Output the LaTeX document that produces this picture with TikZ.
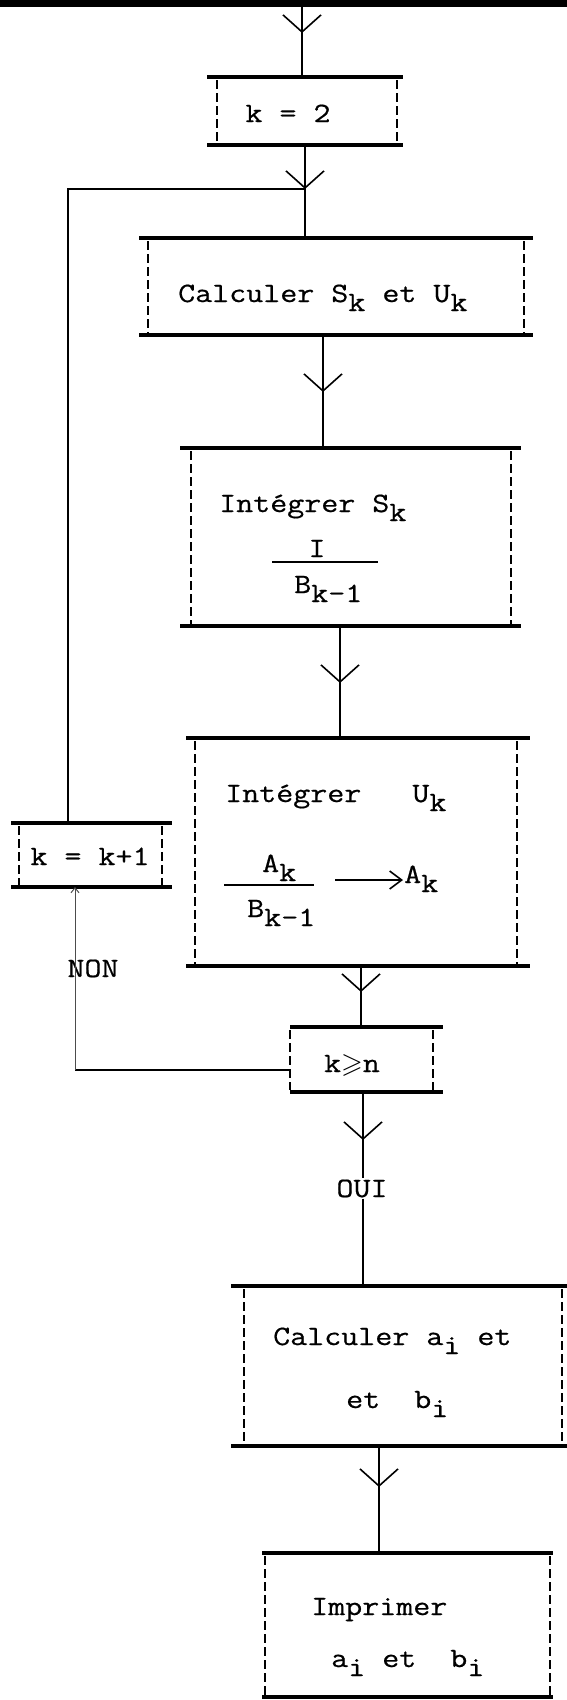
\documentclass[tikz,border=0pt]{standalone}
\usepackage{fontspec}
\setmonofont[FakeStretch=1.18,FakeBold=0.6]{Latin Modern Mono}
\usepackage{amssymb}
\usetikzlibrary{arrows.meta,decorations.markings}

\newcommand\ind[1]{\raisebox{-0.75ex}{#1}}
\newcommand\police{\ttfamily\fontsize{28}{34}\selectfont}
% cadre : traits pleins en haut et en bas, cotes en tirets
\newcommand\cadre[3]{%
  \draw[trait] ([xshift=-#2pt]#1.north west) -- ([xshift=#3pt]#1.north east);
  \draw[trait] ([xshift=-#2pt]#1.south west) -- ([xshift=#3pt]#1.south east);
  \draw[cote] ([yshift=-3pt]#1.north west) -- ([yshift=2pt]#1.south west);
  \draw[cote] ([yshift=-3pt]#1.north east) -- ([yshift=2pt]#1.south east);}

\begin{document}
\begin{tikzpicture}[x=1pt, y=-1pt,
  every node/.style={font=\police, inner sep=1pt},
  boite/.style={inner sep=0pt, outer sep=0pt},
  trait/.style={line width=3.2pt},
  cote/.style={line width=2.8pt, dash pattern=on 9pt off 4pt},
  lien/.style={line width=1.6pt},
  lienfin/.style={line width=1pt, black!70},
  barre/.style={line width=2.2pt},
  fleche/.style={lien, postaction={decorate, decoration={markings,
    mark=at position #1 with {\arrow{Straight Barb[length=17pt,width=38pt]}}}}}]
\useasboundingbox (0,0) rectangle (567,1700);
\fill (0,0) rectangle (567,7);

% boites
\node[boite, minimum width=180pt, minimum height=68pt] (init) at (307,111) {};
\node[boite, minimum width=376pt, minimum height=97pt] (calcSU) at (336,286.5) {};
\node[boite, minimum width=320pt, minimum height=178pt] (intS) at (351,537) {};
\node[boite, minimum width=322pt, minimum height=228pt] (intU) at (356,852) {};
\node[boite, minimum width=143pt, minimum height=64pt] (incr) at (90.5,855) {};
\node[boite, minimum width=143pt, minimum height=65pt] (test) at (361.5,1059.5) {};
\node[boite, minimum width=318pt, minimum height=160pt] (calcab) at (403,1366) {};
\node[boite, minimum width=285pt, minimum height=144pt] (print) at (407.5,1625) {};
\cadre{init}{10}{6}
\cadre{calcSU}{9}{9}
\cadre{intS}{11}{10}
\cadre{intU}{9}{13}
\cadre{incr}{8}{10}
\cadre{test}{0}{10}
\cadre{calcab}{13}{5}
\cadre{print}{3}{3}

% textes
\node[anchor=base] (tinit) at (288,122) {k = 2};
\node[anchor=base west] (tcalcSU) at (177,302) {Calculer S\ind{k} et U\ind{k}};
\node[anchor=base west] (tintS) at (218,512) {Intégrer S\ind{k}};
\node[anchor=base] (numS) at (317,557) {I};
\node[anchor=base west] (denS) at (293,593) {B\ind{k-1}};
\draw[barre] (272,562) -- (378,562);
\node[anchor=base west] (tintU) at (224,802) {Intégrer~~~U\ind{k}};
\node[anchor=base west] (numU) at (261,872) {A\ind{k}};
\node[anchor=base west] (denU) at (246,917) {B\ind{k-1}};
\draw[barre] (224,885) -- (314,885);
\coordinate (depart) at (335,880);
\node[anchor=base west] (resU) at (403,883) {A\ind{k}};
\draw[lien, -{Straight Barb[length=12pt,width=18pt]}] (depart) -- (depart -| resU.west);
\node[anchor=base] (tincr) at (90,865) {k = k+1};
\node[anchor=base] (ttest) at (352,1072) {k$\geqslant$n};
\node[anchor=base] (non) at (93,977) {NON};
\node[anchor=base] (oui) at (362,1197) {OUI};
\node[anchor=base west] (tcalcab) at (272,1345) {Calculer a\ind{i} et};
\node[anchor=base west] (tcalcab2) at (345,1408) {et~~b\ind{i}};
\node[anchor=base west] (tprint) at (310,1615) {Imprimer};
\node[anchor=base west] (tprint2) at (330,1667) {a\ind{i} et~~b\ind{i}};

% liaisons
\coordinate (entree) at (302,7);
\coordinate (jonction) at (305,189);
\coordinate (coinhaut) at (68,189);
\coordinate (coinbas) at (75,1070);
\coordinate (c1) at (323,0);
\coordinate (c2) at (340,0);
\coordinate (c3) at (361,0);
\coordinate (c4) at (363,0);
\coordinate (c5) at (379,0);
\draw[fleche=26pt] (entree) -- (entree |- init.north);
\draw[fleche=44pt] (init.south -| jonction) -- (calcSU.north -| jonction);
\draw[fleche=57pt] (calcSU.south -| c1) -- (intS.north -| c1);
\draw[fleche=57pt] (intS.south -| c2) -- (intU.north -| c2);
\draw[fleche=26pt] (intU.south -| c3) -- (test.north -| c3);
\draw[fleche=48pt] (test.south -| c4) -- (oui.north -| c4);
\draw[lien] (oui.south -| c4) -- (calcab.north -| c4);
\draw[fleche=41pt] (calcab.south -| c5) -- (print.north -| c5);
\draw[lien] (incr.north -| coinhaut) -- (coinhaut) -- (jonction);
\draw[lien] (test.west |- coinbas) -- (coinbas);
\draw[lienfin, -{Straight Barb[length=5pt,width=8pt]}] (coinbas) -- (incr.south -| coinbas);
\end{tikzpicture}
\end{document}
